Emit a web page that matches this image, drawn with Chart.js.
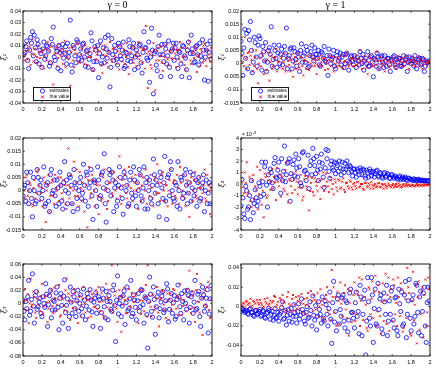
<!DOCTYPE html>
<html>
<head>
<meta charset="utf-8">
<script src="https://cdn.jsdelivr.net/npm/chart.js@4.4.0/dist/chart.umd.min.js"></script>
<style>
  body { margin: 0; width: 436px; height: 368px; overflow: hidden; background: #fff; position: relative; }
  canvas { position: absolute; }
</style>
</head>
<body>
<canvas id="g0xi1" width="218" height="116" style="left:0px;top:0px"></canvas>
<canvas id="g1xi1" width="218" height="116" style="left:218px;top:0px"></canvas>
<canvas id="g0xi2" width="218" height="116" style="left:0px;top:127px"></canvas>
<canvas id="g1xi2" width="218" height="116" style="left:218px;top:127px"></canvas>
<canvas id="g0xi3" width="218" height="116" style="left:0px;top:253px"></canvas>
<canvas id="g1xi3" width="218" height="116" style="left:218px;top:253px"></canvas>
<script>
// time samples
var t = [0, 0.01, 0.02, 0.03, 0.04, 0.05, 0.06, 0.07, 0.08, 0.09, 0.1, 0.11, 0.12, 0.13, 0.14, 0.15, 0.16, 0.17, 0.18, 0.19,
  0.2, 0.21, 0.22, 0.23, 0.24, 0.25, 0.26, 0.27, 0.28, 0.29, 0.3, 0.31, 0.32, 0.33, 0.34, 0.35, 0.36, 0.37, 0.38, 0.39,
  0.4, 0.41, 0.42, 0.43, 0.44, 0.45, 0.46, 0.47, 0.48, 0.49, 0.5, 0.51, 0.52, 0.53, 0.54, 0.55, 0.56, 0.57, 0.58, 0.59,
  0.6, 0.61, 0.62, 0.63, 0.64, 0.65, 0.66, 0.67, 0.68, 0.69, 0.7, 0.71, 0.72, 0.73, 0.74, 0.75, 0.76, 0.77, 0.78, 0.79,
  0.8, 0.81, 0.82, 0.83, 0.84, 0.85, 0.86, 0.87, 0.88, 0.89, 0.9, 0.91, 0.92, 0.93, 0.94, 0.95, 0.96, 0.97, 0.98, 0.99,
  1, 1.01, 1.02, 1.03, 1.04, 1.05, 1.06, 1.07, 1.08, 1.09, 1.1, 1.11, 1.12, 1.13, 1.14, 1.15, 1.16, 1.17, 1.18, 1.19,
  1.2, 1.21, 1.22, 1.23, 1.24, 1.25, 1.26, 1.27, 1.28, 1.29, 1.3, 1.31, 1.32, 1.33, 1.34, 1.35, 1.36, 1.37, 1.38, 1.39,
  1.4, 1.41, 1.42, 1.43, 1.44, 1.45, 1.46, 1.47, 1.48, 1.49, 1.5, 1.51, 1.52, 1.53, 1.54, 1.55, 1.56, 1.57, 1.58, 1.59,
  1.6, 1.61, 1.62, 1.63, 1.64, 1.65, 1.66, 1.67, 1.68, 1.69, 1.7, 1.71, 1.72, 1.73, 1.74, 1.75, 1.76, 1.77, 1.78, 1.79,
  1.8, 1.81, 1.82, 1.83, 1.84, 1.85, 1.86, 1.87, 1.88, 1.89, 1.9, 1.91, 1.92, 1.93, 1.94, 1.95, 1.96, 1.97, 1.98, 1.99];
var xTicks = [0, 0.2, 0.4, 0.6, 0.8, 1, 1.2, 1.4, 1.6, 1.8, 2];

// all values below are in units of 1e-3
// gamma = 0, xi1
var est_g0_xi1 = [10, 2, 4, 9, 14, -3, -10, 6, 17, 12, 22, 1, 19, 8, -4, 15, 11, -6, 6, 3,
  -9, 7, 13, -2, 1, 10, 9, 5, -8, -5, 16, 11, 26, 0, -3, 8, 5, -10, 10, 4,
  -12, 6, 11, -1, 3, 9, -6, 12, 0, 4, 32, -7, -13, 10, 8, 1, -5, 15, 13, -2,
  2, 7, -3, 11, 12, 0, -8, 5, 6, -9, -2, 3, 21, 14, -11, -4, 9, 6, -4, 10,
  -18, 3, 14, -6, 0, 8, -5, 17, 7, -1, 19, 4, -26, -9, 16, 2, -3, 10, 5, -2,
  -7, 12, 9, 1, -2, 6, 13, -10, -8, 4, 3, -3, 15, 9, -4, 1, 8, 12, -11, 0,
  6, 2, -9, 10, 11, -5, -14, 4, 22, 8, 8, -1, -3, 13, -22, 0, 25, 6, -32, 3,
  5, -7, -12, 9, 19, 2, -17, 11, 2, -4, 11, 7, -6, 1, 14, -9, -17, 5, 7, 12,
  -3, 8, 12, 0, -10, 5, 4, -6, -17, 10, 9, 1, -1, -11, 6, 13, -18, 3, 19, 7,
  3, -5, -4, 9, 10, 2, -7, 12, 1, -3, 15, 6, -20, 0, 6, 11, -21, 4, 14, -2];
var true_g0_xi1 = [8, 1, -3, 5, 12, -2, 6, 9, -7, 3, 15, -4, 2, 7, -5, 0, 10, 4, -1, -8,
  4, 6, -10, 1, 7, -3, 13, 5, -4, 10, 9, -6, -24, 2, 3, 8, -8, -1, 11, 5,
  1, 7, -6, 3, 14, -9, 5, 0, -2, 8, -25, 4, 9, -3, -9, 6, 3, 11, 12, -4,
  -5, 2, 7, 9, -1, -6, 10, 3, -7, 0, 4, 8, 0, -10, -12, 5, 8, -2, 2, 6,
  -3, 5, 11, -7, -14, 2, 6, 10, 1, -5, -9, 4, 13, -2, -4, 7, 8, 1, -1, -6,
  5, 9, -11, 3, 10, -4, 2, 6, -6, 0, 12, -9, -15, 3, 4, 8, -2, -5, 9, 1,
  -8, 4, 13, -2, 1, 8, -5, 6, 7, -10, 27, 3, -27, 5, 3, -7, -10, 1, 12, 6,
  -29, -3, 5, 8, -3, 1, 9, -5, -12, 4, 0, 10, 11, -2, -7, 5, 4, -1, -2, 7,
  10, 3, -9, 6, 6, -2, 13, 8, -4, 0, 1, -7, -11, 4, 8, 11, 14, -3, -6, 5,
  3, -1, 9, 6, -13, 2, 0, -8, 7, 4, -5, 10, 12, -3, -8, 6, 2, -1, -4, 8];

// gamma = 1, xi1
var est_g1_xi1 = [8.5, 4, -4.5, 6, 13, 2, 11.5, -2, 12.5, 9, 16, 5, -3.5, 0.5, 10, 8, 2.5, -1, 7, 10.5,
  9.5, 3, -2.5, 6.5, 4.5, 1, 8, -3, 0.5, 5, 6, 3.5, 14, -1, 1.5, 7, 5, 2, -1.5, 4,
  7, 0, 3.5, 5.5, -0.5, 2, 6.5, 4, 13.5, -2, 2, 3, 5.5, 6, -2, 1, 6, 4.5, 1.5, -1,
  4, 2.5, -3, 5, 7.5, 0.5, 3, 4, 0.5, 6.5, 5, -1.5, -1, 3, 4.5, 7, 2.5, 1, 6, 3.5,
  3.5, 2, 5, -0.5, -1, 4.5, 4, 2, 6.5, 1, 0.5, 3, -4.5, 5.5, 3, 0, 1.5, 2.5, 5, -1,
  -2, 3, 4.5, 1, 2, 4, -0.5, 2.5, 3.5, -1.5, 0, 3.5, 4, 1, -2.5, 0.5, 2.5, 3, 1, -0.5,
  3, 1.5, -1.5, 2.5, 1, -0.5, 4.5, 2, 0, 3.5, -2.5, 1, 2, 0, 4.5, -1, -1, 2.5, 3, 0.5,
  -5, 2, 1.5, -1, 4, 2.5, -2, 0.5, 2.5, 3, 0.5, -1.5, 3, 1, -1, 2, 2, -0.5, -3, 1.5,
  1, 2.5, 3, -0.5, -1.5, 1.5, 0.5, 2, 2, -1, -1, 1, 3, 0, 1.5, 2.5, -3, 0.5, 2.5, 1,
  0, 2, 1, -1, 3, 0.5, -2, 1.5, 1.5, 2, -0.5, 0, 2, 1.5, -3, -1, 1, 0.5, 0.5, 1];
var true_g1_xi1 = [1, 3, 0.5, -1, 10, 2, -2, 4, 4.5, -0.5, 3, 1.5, -3, 5, -1, 2.5, 5, -2, -7.5, 0,
  2, -1, 4, 3, -4, 1, 5, -2.5, 1.5, 4, -6.5, 0.5, 3, -2, -1, 2, 2.5, 5.5, -3, 1,
  0.5, -1.5, 2, 3, -2, 0.5, 4, -3, -1, 2, 1, -0.5, -3, 1.5, 3.5, -5, 0, 2.5, -2, 1,
  4, 0, -1.5, 2.5, 2, -1, -4.5, 1.5, 1, -2, 3, 0.5, -2.5, 3, 0, -1, 2, 1.5, -1, 0,
  -4, 2, 1.5, -1, 3, 0.5, -1, 2, 2, -2.5, 0, 1, -2, 1.5, 3, -1, 1, 2.5, -3, 0,
  2.5, -1, 0.5, 2, -1, 1, 3, -1.5, -2, 0.5, 1, 3, 4, -0.5, -1, 1.5, 0, 2, 2, -1,
  -1, 1.5, 3, -0.5, 0.5, 2, 5, 1, -2, 0, 2, 3, 1, -1.5, -4, 0.5, 3, 2, 0, -1,
  -1, 1, 2, -0.5, 4.5, 1, -2, 2.5, 1, -1, 0, 1.5, -3, 0, 2, 1, 1, -1.5, -1, 0.5,
  2, 1, 0, -1, -2, 1.5, 3, 0, 1, 2, -1, 0.5, 2, -1, 0.5, 1, 3, 0, -2, 1.5,
  1, -0.5, 2, 1, -1, 0.5, 0, 2, 3, -1, 1, 0, -2, 1.5, 2, 0.5, 0, -1, 1, 0.5];

// gamma = 0, xi2
var est_g0_xi2 = [-2, 1, 2, -4, 7, 3, -5, 0, 7, -3, -10, 5, 0, -5, -4, 8, 5, -1, 2, 4,
  -3, 0, 9, -6, -5, 2, 3, -4, -8, 6, 8, -1, 0, 4, -2, -6, 4, 1, -5, 7,
  2, -4, -7, 3, 11, 0, 4, -5, -1, 6, 5, 2, -5, -8, 8, 3, 1, -3, -7, 0,
  3, 5, -3, -1, 10, 2, -4, 7, 6, -6, 1, 3, 8, -2, -11, 4, 3, 0, -6, 9,
  4, -3, -2, 6, 7, 1, 14, -5, -12, 3, 0, 8, 6, -2, 7, 4, -8, 1, 3, -6,
  -4, 2, 9, 5, 1, -3, -9, 7, 5, 0, 2, -6, -5, 4, 7, -1, -3, 9, 4, -2,
  -6, 3, 0, 8, 6, -2, -4, 1, 9, -7, 3, 5, -7, 0, 4, -3, -5, 2, 12, 6,
  -1, 4, 2, -5, -10, 7, 5, 1, -3, 3, 13, -4, -11, 5, 6, -2, 11, 8, 0, -3,
  -4, 3, 2, -6, 11, 0, -7, 5, 4, -3, -1, 6, 8, 2, -5, -1, 3, 7, -4, 1,
  6, -2, 0, 4, -6, 3, 5, -4, -3, 1, 3, 6, -8, 0, 4, -5, -1, 3, -5, 2];
var true_g0_xi2 = [3, 0, -3, 5, 6, -2, 0, 3, 2, -5, -6, 1, 4, -3, -1, 7, 8, 2, -4, -1,
  1, -6, 5, 3, -12, 0, 2, 6, -8, -2, 3, 4, -2, -5, 6, 1, 0, 5, -4, 2,
  5, -1, -3, 4, 2, -5, -7, 2, 16, -3, 1, 6, -5, 0, 11, -2, 3, 8, -2, -6,
  7, 1, -4, 3, 0, -8, 5, 2, -14, 4, 9, -3, -1, 6, 4, 0, -6, 3, 2, -2,
  -9, 2, 6, -4, -3, 5, 8, 0, 1, -7, -4, 3, 3, 7, -1, -2, 7, 4, 0, -3,
  5, 1, 13, -2, -5, 4, 2, 8, 6, -1, -3, 2, 9, -6, 1, 5, -4, 0, 3, 6,
  0, 3, -7, 1, 6, -4, 2, 5, -3, 0, 8, -5, 4, 2, -2, 6, 1, -3, -6, 4,
  5, -1, 10, 3, -1, -4, 3, 6, 7, 0, -4, 2, 2, -6, 0, 4, 8, -1, -5, 3,
  4, -2, -3, 6, 1, -5, 9, 3, -2, 0, 6, -3, -6, 4, 2, -1, -10, 3, 5, -4,
  0, 4, 7, -2, -3, 1, 3, 5, 1, -4, -1, 2, 8, -3, -4, 6, 2, 0, -9, 1];

// gamma = 1, xi2 (plotted x 1e-3)
var est_g1_xi2 = [-1.9, 0.4, -1.2, -2.6, -3.0, -0.2, -0.6, -2.2, -2.0, -1.0, -3.1, 0.3, -1.4, -2.5, -1.7, -0.5, -1.2, -1.9, -1.5, 0.1,
  -0.2, -1.1, 1.9, 0.2, -0.9, 1.5, 1.9, -0.1, -2.0, 0.8, 0.2, 1.3, 1.0, 0.1, -0.4, 1.8, 2.3, 0.6, 0.5, 1.2,
  1.9, 0.7, -0.8, 2.2, 0.3, 1.1, 3.3, 0.2, 0.8, 1.8, 1.9, 2.2, -1.5, 0.9, 0.4, 1.7, 2.1, 0.7, 2.6, 1.4,
  0.6, 2.2, 1.5, 0.1, -0.2, 2.7, 2.8, 1.1, 1.2, 0.3, 0.9, 2.5, -0.4, 1.6, 2.0, 0.8, 3.1, 2.2, 1.6, 0.9,
  2.4, 1.2, 0.3, 1.9, 1.3, 2.6, 1.8, 0.6, -0.3, 1.4, 3.0, 2.2, 2.9, 1.1, 0.5, 1.7, 2.0, 1.4, 1.2, 1.9,
  0.9, 1.8, 1.6, 1.1, 2.0, 1.4, 0.8, 1.9, 1.3, 1.0, 1.8, 1.3, 2.0, 1.5, 1.0, 1.6, 1.5, 1.1, 0.7, 1.3,
  1.3, 1.0, 0.6, 1.3, 1.1, 0.8, 1.4, 1.2, 0.8, 1.3, 1.2, 0.7, 0.5, 1.2, 1.0, 0.6, 1.3, 1.1, 0.7, 1.0,
  1.1, 0.6, 0.9, 1.1, 1.2, 0.7, 0.6, 1.0, 0.9, 0.6, 0.5, 0.9, 1.0, 0.6, 0.7, 0.9, 0.8, 0.5, 0.5, 0.8,
  0.8, 0.6, 0.5, 0.7, 0.6, 0.5, 0.4, 0.6, 0.7, 0.4, 0.5, 0.6, 0.4, 0.5, 0.6, 0.4, 0.3, 0.5, 0.5, 0.4,
  0.4, 0.35, 0.3, 0.45, 0.4, 0.3, 0.3, 0.4, 0.4, 0.3, 0.3, 0.35, 0.3, 0.3, 0.25, 0.3, 0.3, 0.25, 0.25, 0.3];
var true_g1_xi2 = [0.5, 0.2, -0.3, -0.8, 1.0, 0.1, 1.9, -1.0, -0.7, 0.6, -1.5, -2.0, 0.3, 0.8, -1.3, -0.2, -0.5, 1.5, -2.2, -0.9,
  1.2, 0.4, -1.8, -0.6, -2.9, 0.9, 0.6, -1.2, -1.0, 0.3, 0.9, -0.5, 0.2, 1.3, -0.4, 0.6, 0.15, -1.4, 1.4, 0.2,
  -0.2, 0.8, -1.1, 0.3, 0.6, -0.4, -0.6, 1.2, 1.9, -0.9, -1.6, 0.4, 0.3, -0.2, -0.8, 0.9, 0.4, -0.5, 1.1, 0.2,
  -0.9, -0.3, 0.2, 0.8, -0.3, -1.4, -1.1, 0.4, 0.7, -0.2, -0.5, 0.6, -2.3, -0.6, 0.1, 0.5, -0.7, -1.0, 0.5, 0.2,
  -0.15, -0.6, 0.9, 0.3, -1.3, -0.3, 0.4, 1.0, -0.6, -0.2, 0.9, 0.2, -0.2, -0.7, 0.6, 0.3, -0.45, 0.0, -0.9, 0.4,
  0.15, -0.3, -0.6, 0.4, 0.3, -0.4, -0.3, 0.2, 0.5, -0.5, -0.7, 0.1, 0.1, -0.2, -0.4, 0.3, 0.2, -0.3, -0.5, 0.0,
  0.1, -0.2, -0.4, 0.15, 0.2, -0.3, -0.2, 0.0, 0.0, -0.4, -0.5, 0.1, 0.1, -0.2, -0.3, 0.05, -0.1, -0.4, 0.2, -0.1,
  -0.4, -0.15, 0.0, -0.3, -0.2, 0.05, 0.1, -0.25, -0.3, 0.0, -0.1, -0.4, 0.0, -0.15, -0.35, -0.2, 0.05, -0.1, -0.2, -0.3,
  -0.1, 0.0, -0.3, -0.15, 0.0, -0.25, -0.2, 0.05, -0.1, -0.3, -0.25, -0.1, 0.0, -0.2, -0.15, 0.0, -0.2, -0.1, -0.05, -0.2,
  -0.15, -0.05, -0.1, -0.2, -0.2, -0.1, 0.0, -0.15, -0.1, -0.05, -0.15, -0.1, -0.05, -0.15, -0.1, -0.05, -0.05, -0.1, -0.1, -0.05];

// gamma = 0, xi3
var est_g0_xi3 = [5, -12, -25, 3, -8, 10, 35, -18, -12, 6, 45, -4, -30, 12, 18, -9, -5, 2, 8, -15,
  -20, 10, 0, -6, 30, 14, -35, -2, 12, 20, -22, -10, 5, 3, -10, 16, 25, -6, -40, 8,
  15, -3, -30, 11, 36, -14, -3, 7, -38, -20, 25, 2, -15, 18, 10, -8, -20, 4, 20, -12,
  0, 13, -8, -19, 22, 5, -25, -4, 15, 9, -10, 21, 5, -13, -35, 2, 8, 16, -15, -5,
  10, 6, -38, -14, 22, 8, -5, -22, 18, 3, -25, 12, 3, -9, -12, 20, 28, -3, -58, 5,
  42, -16, 0, 9, -20, -4, 12, 19, -32, 1, 25, -11, -8, 7, 35, -20, -15, 13, 5, -6,
  -25, 4, 15, -12, -5, 21, 20, -2, -30, 10, 8, -17, -68, 3, 40, 14, -12, -21, 25, 6,
  -47, -5, 10, 17, -22, -8, 2, 11, 18, -14, -10, 4, 30, 22, -28, -9, 5, 15, -15, 1,
  12, -24, -20, 6, 28, 10, -5, -15, 15, 3, -25, 19, 0, -9, 20, 12, -30, -6, 10, 16,
  -15, 2, 35, -10, -8, 14, 18, -20, -35, 8, 25, 13, -12, -4, 8, 21, -45, -16, 7, 27];
var true_g0_xi3 = [-8, 4, 22, -10, 5, 14, -30, 0, 38, -6, -2, 18, 10, -14, -22, 7, 18, -3, -12, 11,
  30, -16, -5, 9, 12, 2, -28, -8, 3, 15, 20, -4, -15, 24, 8, -11, -2, 6, 28, -20,
  -18, 10, 6, -4, -10, 20, 38, -12, 15, 4, -25, 12, 2, -7, 22, 16, -8, 3, -30, 10,
  12, -20, -3, 7, 25, 0, -14, 10, 5, -22, 18, 6, -20, 14, 8, -5, -6, 20, 15, -9,
  25, 2, -12, 16, 3, -18, -22, 9, 30, -6, 8, 21, -10, 0, 58, -14, -3, 12, 18, -8,
  -28, 6, 20, 10, -43, -2, 12, 24, 5, -15, -15, 7, 22, -4, -6, 16, 10, 2, -18, 12,
  15, -8, -30, 20, 5, -16, 20, 4, -12, 10, 28, -20, 58, 12, 2, -5, -20, 14, 12, -10,
  -5, 8, 25, -14, -35, 6, 8, 20, 18, -2, -10, -22, 3, 15, -25, 6, 15, -10, -2, 22,
  20, 4, -8, 12, 10, -18, 30, 7, -18, -4, 5, 15, -12, -2, 22, 10, 50, -8, -15, 18,
  12, -6, -28, 20, 45, 3, 2, -14, 30, 8, -48, 16, 20, -2, -5, 25, 33, -10, -22, 6];

// gamma = 1, xi3
var est_g1_xi3 = [-5, -2, -3, -4, -6, -5, -4, -7, -8, -3, -2, -6, -6, -9, -10, -4, -4, -8, -7, -5,
  -3, -10, -9, -4, -5, -11, -12, -7, -6, -2, -4, -13, -8, -5, -14, -9, -2, -12, -11, -6,
  -15, -8, -6, -1, 5, -13, -12, -4, -19, -9, -3, -15, -8, -2, -16, -10, 2, -6, -10, -17,
  -5, 3, -13, -9, 8, -3, -7, -15, -18, -6, 0, -12, -11, 5, -4, -20, 11, -9, -14, 1,
  -24, -10, 5, -3, -8, -17, 10, -12, -15, 6, 2, -8, -20, -2, 15, -13, -38, 4, 26, -16,
  -5, -25, 8, 12, -18, -3, -10, 9, 12, -15, -22, 6, 4, -26, -14, 14, 18, -6, -6, -12,
  -22, 4, 15, -10, -5, -28, 22, 10, -30, -8, 8, 17, -50, -15, 30, 5, -12, -20, 30, 12,
  -37, -2, 18, -18, -20, 24, -3, 8, 12, -23, -28, 14, 5, -8, 22, -30, -15, 6, -8, 16,
  20, -14, -22, 9, 10, -25, -30, 18, 3, -5, 15, -20, -18, 12, 26, -32, -8, 6, 28, -12,
  -25, 7, 12, -18, -10, 24, 22, -6, -27, 10, 16, -30, -5, 14, 20, -20, -37, 4, 20, 6];
var true_g1_xi3 = [2, 1, 4, 3, 0, 5, 6, 2, 3, 4, 8, 0, 1, 6, 5, 3, -2, 7, 4, 2,
  7, 4, 2, -1, 0, 8, 5, 3, 9, 1, 3, 6, -1, 4, 6, 11, 10, 0, 2, 5,
  -3, 9, 7, 1, 12, 5, 4, -4, -6, 10, 15, 3, 1, -5, 8, 12, -4, 2, 10, -2,
  6, 11, -2, 4, 13, -6, 3, 8, -8, 2, 9, 14, 0, -10, 16, 6, -5, 12, 7, -3,
  5, 14, -10, 0, 18, 6, 2, -12, -15, 8, 12, 20, -4, 5, -8, -14, 38, 10, 20, -6,
  10, -20, 15, 6, -18, 25, 3, -10, 8, 14, 22, -3, -12, 18, -30, 4, 16, -16, -6, 12,
  25, -15, -8, 16, 12, 30, -20, 6, 28, -14, 44, 10, 2, -22, -25, 20, 18, -8, 8, 26,
  -12, 15, 32, -20, -5, 22, 15, -10, -28, 5, 24, -15, 6, 34, -18, 12, 30, -25, 10, 18,
  -15, 28, 22, -8, 4, -20, 30, 10, -10, 24, 18, -26, -22, 14, 8, -12, 40, 20, 14, -28,
  -30, 6, 36, -14, 2, 22, -38, 10, 26, -24, -8, 16, 20, -32, 12, 28, -20, -6, 30, 18];

// y ticks (same units as the data)
var yTicks_g0_xi1 = [-40, -30, -20, -10, 0, 10, 20, 30, 40];
var yTicks_g1_xi1 = [-15, -10, -5, 0, 5, 10, 15, 20];
var yTicks_g0_xi2 = [-15, -10, -5, 0, 5, 10, 15, 20];
var yTicks_g1_xi2 = [-4, -3, -2, -1, 0, 1, 2, 3, 4];
var yTicks_g0_xi3 = [-80, -60, -40, -20, 0, 20, 40, 60];
var yTicks_g1_xi3 = [-40, -20, 0, 20, 40];

Chart.defaults.font.family = '"Liberation Sans", Arial, sans-serif';
Chart.defaults.font.size = 5.5;
Chart.defaults.color = '#000';

function puntos(vals) {
  return vals.map(function (v, i) { return { x: t[i], y: v }; });
}

// box, inward ticks, title, legend and exponent label
var marco = {
  id: 'marco',
  afterDraw: function (chart, args, opts) {
    var c = chart.ctx, a = chart.chartArea;
    var sx = chart.scales.x, sy = chart.scales.y;
    c.save();
    c.strokeStyle = '#000';
    c.lineWidth = 0.9;
    c.strokeRect(a.left, a.top, a.right - a.left, a.bottom - a.top);
    c.lineWidth = 0.6;
    c.beginPath();
    sx.ticks.forEach(function (tk) {
      var px = sx.getPixelForValue(tk.value);
      c.moveTo(px, a.bottom); c.lineTo(px, a.bottom - 2);
      c.moveTo(px, a.top); c.lineTo(px, a.top + 2);
    });
    sy.ticks.forEach(function (tk) {
      var py = sy.getPixelForValue(tk.value);
      c.moveTo(a.left, py); c.lineTo(a.left + 2, py);
      c.moveTo(a.right, py); c.lineTo(a.right - 2, py);
    });
    c.stroke();
    c.fillStyle = '#000';
    if (opts.titulo) {
      c.font = '10px "Liberation Serif", serif';
      c.textAlign = 'center';
      c.textBaseline = 'middle';
      c.fillText(opts.titulo, (a.left + a.right) / 2, 5.5);
    }
    if (opts.exponente) {
      c.font = '5px "Liberation Sans", Arial, sans-serif';
      c.textAlign = 'left';
      c.textBaseline = 'alphabetic';
      c.fillText('\u00d7 10', a.left + 1, a.top - 2);
      c.font = '4px "Liberation Sans", Arial, sans-serif';
      c.fillText(opts.exponente, a.left + 11.5, a.top - 4.5);
    }
    if (opts.etiquetaX) {
      c.font = 'italic 8px "Liberation Serif", serif';
      c.textAlign = 'center';
      c.textBaseline = 'top';
      c.fillText(opts.etiquetaX, (a.left + a.right) / 2, a.bottom + 10);
    }
    if (opts.leyenda) {
      var lx = a.left + 10.5, ly = a.bottom - 15.5;
      c.fillStyle = '#fff';
      c.fillRect(lx, ly, 37, 13);
      c.lineWidth = 0.9;
      c.strokeRect(lx, ly, 37, 13);
      chart.data.datasets.forEach(function (ds, k) {
        var my = ly + 3.5 + k * 6;
        var mx = lx + 9;
        c.strokeStyle = ds.borderColor;
        c.lineWidth = ds.borderWidth;
        c.beginPath();
        if (ds.pointStyle === 'circle') {
          c.arc(mx, my, ds.pointRadius, 0, Math.PI * 2);
        } else {
          var r = ds.pointRadius;
          c.moveTo(mx - r, my - r); c.lineTo(mx + r, my + r);
          c.moveTo(mx - r, my + r); c.lineTo(mx + r, my - r);
        }
        c.stroke();
        c.fillStyle = '#000';
        c.font = '4.5px "Liberation Sans", Arial, sans-serif';
        c.textAlign = 'left';
        c.textBaseline = 'middle';
        c.fillText(ds.label, lx + 16, my);
      });
    }
    c.restore();
  }
};

function crearGrafico(id, est, verd, yTicks, yMin, yMax, yLabel, divisor, extra) {
  var ctx = document.getElementById(id).getContext('2d');
  return new Chart(ctx, {
    type: 'scatter',
    data: {
      datasets: [{
        label: 'estimates',
        data: puntos(est),
        pointStyle: 'circle',
        pointRadius: 2.1,
        borderColor: '#0000ff',
        backgroundColor: 'rgba(0,0,0,0)',
        borderWidth: 0.8,
        order: 2
      }, {
        label: 'true value',
        data: puntos(verd),
        pointStyle: 'crossRot',
        pointRadius: 1.4,
        borderColor: '#ff0000',
        backgroundColor: '#ff0000',
        borderWidth: 0.9,
        order: 1
      }]
    },
    options: {
      responsive: false,
      animation: false,
      devicePixelRatio: 1,
      events: [],
      layout: { padding: { top: 11, right: 6, left: 0, bottom: 0 } },
      plugins: { legend: { display: false }, tooltip: { enabled: false }, marco: extra },
      scales: {
        x: {
          type: 'linear', min: 0, max: 2,
          grid: { display: false, drawTicks: false },
          border: { display: false },
          ticks: { padding: 3, autoSkip: false, maxRotation: 0, callback: function (v) { return String(v); } },
          afterBuildTicks: function (s) { s.ticks = xTicks.map(function (v) { return { value: v }; }); },
          afterFit: function (s) { s.height = 13; }
        },
        y: {
          type: 'linear', min: yMin, max: yMax,
          grid: { display: false, drawTicks: false },
          border: { display: false },
          title: { display: true, text: yLabel, padding: 0, font: { family: '"DejaVu Serif", serif', size: 7.5, style: 'italic' } },
          ticks: { padding: 2, autoSkip: false, callback: function (v) { return String(v / divisor); } },
          afterBuildTicks: function (s) { s.ticks = yTicks.map(function (v) { return { value: v }; }); },
          afterFit: function (s) { s.width = 23; }
        }
      }
    },
    plugins: [marco]
  });
}

crearGrafico('g0xi1', est_g0_xi1, true_g0_xi1, yTicks_g0_xi1, -40, 40, '\u03be\u2081', 1000, { titulo: '\u03b3 = 0', leyenda: true });
crearGrafico('g1xi1', est_g1_xi1, true_g1_xi1, yTicks_g1_xi1, -15, 20, '\u03be\u2081', 1000, { titulo: '\u03b3 = 1', leyenda: true });
crearGrafico('g0xi2', est_g0_xi2, true_g0_xi2, yTicks_g0_xi2, -15, 20, '\u03be\u2082', 1000, {});
crearGrafico('g1xi2', est_g1_xi2, true_g1_xi2, yTicks_g1_xi2, -4, 4, '\u03be\u2082', 1, { exponente: '-3' });
crearGrafico('g0xi3', est_g0_xi3, true_g0_xi3, yTicks_g0_xi3, -80, 60, '\u03be\u2083', 1000, { etiquetaX: 't' });
crearGrafico('g1xi3', est_g1_xi3, true_g1_xi3, yTicks_g1_xi3, -51, 44, '\u03be\u2083', 1000, { etiquetaX: 't' });
</script>
</body>
</html>
